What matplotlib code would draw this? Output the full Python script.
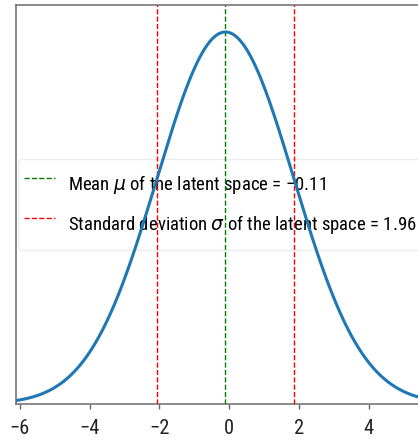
import numpy as np
import matplotlib
matplotlib.use("Agg")
import matplotlib.pyplot as plt
from matplotlib import font_manager
from matplotlib.font_manager import FontProperties

# Latent-space statistics
mu = -0.11
sigma = 1.96
x_ticks = [-6, -4, -2, 0, 2, 4]

mu_txt = f'{mu:.2f}'.replace('-', '\u2212')
label_mu = f'Mean $\\mu$ of the latent space = {mu_txt}'
label_sigma = f'Standard deviation $\\sigma$ of the latent space = {sigma:.2f}'

plt.rcParams['mathtext.fontset'] = 'dejavusans'

W, H = 418, 443
DPI = 100
fig = plt.figure(figsize=(W / DPI, H / DPI), dpi=DPI)
renderer = fig.canvas.get_renderer()


def text_width(family, size, s):
    t = fig.text(0, 0, s, fontproperties=FontProperties(family=family, size=size))
    w = t.get_window_extent(renderer).width
    t.remove()
    return w


# Narrowest installed sans family for the labels
candidates = ['Liberation Sans Narrow', 'DejaVu Sans Condensed', 'Roboto Condensed',
              'Roboto', 'Liberation Sans', 'Lato', 'Noto Sans', 'Inter', 'Open Sans',
              'DejaVu Sans']
best = None
for fam in candidates:
    try:
        font_manager.findfont(FontProperties(family=fam), fallback_to_default=False)
    except Exception:
        continue
    w = text_width(fam, 14.0, label_sigma)
    if best is None or w < best[1]:
        best = (fam, w)
family = best[0]
plt.rcParams['font.family'] = [family, 'DejaVu Sans']

# Legend text size: the longer label spans x = 66..415 px
leg_size = min(14.0 * 349.0 / text_width(family, 14.0, label_sigma), 14.7)
tick_size = 14.7

left_px, right_px, top_px, bottom_px = 15.7, 440, 5, 404
ax = fig.add_axes([left_px / W, 1 - bottom_px / H,
                   (right_px - left_px) / W, (bottom_px - top_px) / H])

px_per_unit = 34.9
xmin = -6.12
xmax = xmin + (right_px - left_px) / px_per_unit

x = np.linspace(xmin, xmax, 800)
pdf = np.exp(-0.5 * ((x - mu) / sigma) ** 2) / (sigma * np.sqrt(2 * np.pi))
peak = 1 / (sigma * np.sqrt(2 * np.pi))

ax.plot(x, pdf, color='#1f77b4', lw=2.2, zorder=4)
ax.axvline(mu, color='green', ls='--', lw=1.0, zorder=3, label=label_mu)
ax.axvline(mu - sigma, color='red', ls='--', lw=1.0, zorder=3, label=label_sigma)
ax.axvline(mu + sigma, color='red', ls='--', lw=1.0, zorder=3)

ax.set_xlim(xmin, xmax)
ax.set_ylim(0, peak * 399 / 372)
ax.set_yticks([])
ax.set_xticks(x_ticks)
ax.tick_params(axis='x', length=3.6, width=1, color='#666', labelcolor='#222',
               pad=7.5, labelsize=tick_size)
for sp in ax.spines.values():
    sp.set_color('#777')
    sp.set_linewidth(1.2)

fs_px = leg_size * DPI / 72.0


def make_legend(hh_px, sep_px, pad_px):
    leg = ax.legend(loc='center left', fontsize=leg_size,
                    handlelength=31 / fs_px, handletextpad=13 / fs_px,
                    borderaxespad=2.3 / fs_px, borderpad=pad_px / fs_px,
                    handleheight=hh_px / fs_px, labelspacing=sep_px / fs_px,
                    frameon=True, fancybox=True)
    fr = leg.get_frame()
    fr.set_edgecolor('#ececec')
    fr.set_facecolor('white')
    fr.set_alpha(1.0)
    leg.set_zorder(1)
    return leg


# Row pitch 41 px, frame height 91 px
target_pitch, target_height = 41.0, 91.0
hh, sep, pad = 38.0, 3.0, 4.5
leg = make_legend(hh, sep, pad)
for _ in range(4):
    fig.canvas.draw()
    ys = [t.get_window_extent(renderer) for t in leg.get_texts()]
    pitch = abs((ys[0].y0 + ys[0].y1) / 2 - (ys[1].y0 + ys[1].y1) / 2)
    fb = leg.get_frame().get_window_extent(renderer)
    row = pitch - sep * 0  # measured pitch includes row + separation
    if abs(pitch - target_pitch) < 0.5 and abs(fb.height - target_height) < 0.8:
        break
    hh *= target_pitch / pitch
    pad += (target_height - fb.height - (target_pitch - pitch) * 2) / 2.0
    pad = max(pad, 1.0)
    leg.remove()
    leg = make_legend(hh, sep, pad)

fig.savefig('out.png', dpi=DPI)
